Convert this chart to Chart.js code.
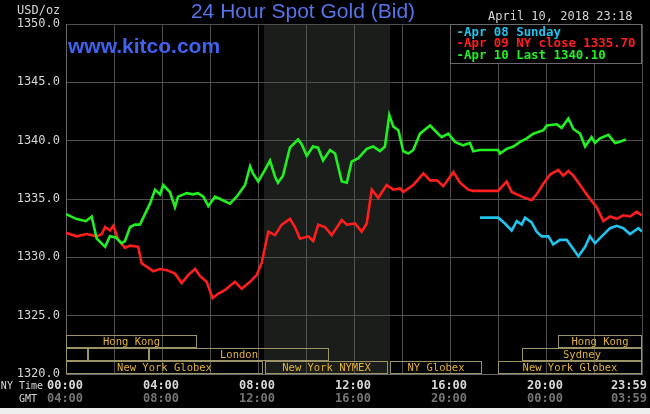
<!DOCTYPE html>
<html><head><meta charset="utf-8">
<script src="https://cdn.jsdelivr.net/npm/chart.js@4/dist/chart.umd.min.js"></script>
<style>html,body{margin:0;padding:0;background:#000;overflow:hidden}#wrap{width:650px;height:414px;position:relative}</style>
</head><body><div id="wrap"><canvas id="c" width="650" height="414"></canvas></div>
<script>
// ---- data (hours NY time, USD/oz) ----
const greenTimes = [0.00,0.42,0.83,1.07,1.28,1.63,1.83,2.08,2.32,2.46,2.67,2.88,3.08,3.29,3.50,3.71,3.92,4.05,4.33,4.54,4.67,5.03,5.29,5.50,5.72,5.93,6.21,6.42,6.83,7.11,7.46,7.67,7.79,8.01,8.29,8.50,8.71,8.83,9.04,9.33,9.67,9.82,10.03,10.29,10.50,10.71,11.00,11.21,11.49,11.70,11.90,12.18,12.53,12.80,13.08,13.29,13.47,13.64,13.85,14.05,14.26,14.47,14.75,15.17,15.45,15.65,15.93,16.21,16.55,16.83,16.97,17.25,18.00,18.08,18.36,18.64,18.92,19.20,19.47,19.89,20.03,20.45,20.65,20.93,21.14,21.42,21.63,21.90,22.04,22.25,22.60,22.88,23.08,23.33];
const greenValues = [1333.7,1333.3,1333.1,1333.5,1331.6,1330.9,1331.8,1331.7,1331.2,1331.4,1332.6,1332.8,1332.8,1333.7,1334.6,1335.8,1335.4,1336.2,1335.6,1334.3,1335.2,1335.5,1335.4,1335.5,1335.2,1334.4,1335.2,1335.0,1334.6,1335.2,1336.2,1337.8,1337.2,1336.5,1337.5,1338.3,1336.9,1336.4,1337.0,1339.4,1340.1,1339.7,1338.7,1339.5,1339.4,1338.3,1339.2,1338.9,1336.5,1336.4,1338.2,1338.5,1339.3,1339.5,1339.1,1339.5,1342.2,1341.2,1340.9,1339.1,1338.9,1339.2,1340.6,1341.3,1340.7,1340.3,1340.6,1339.9,1339.6,1339.8,1339.1,1339.2,1339.2,1338.9,1339.3,1339.5,1339.9,1340.2,1340.6,1340.9,1341.3,1341.4,1341.1,1341.9,1341.0,1340.6,1339.5,1340.3,1339.8,1340.2,1340.5,1339.8,1339.9,1340.1];

const redTimes = [0.00,0.45,0.86,1.28,1.49,1.63,1.83,1.97,2.18,2.46,2.67,3.01,3.15,3.36,3.64,3.92,4.20,4.54,4.82,5.10,5.38,5.58,5.86,6.11,6.35,6.63,7.04,7.32,7.67,7.95,8.15,8.43,8.71,8.99,9.33,9.54,9.75,10.10,10.30,10.51,10.79,11.07,11.49,11.70,12.04,12.32,12.53,12.74,13.01,13.36,13.64,13.92,14.05,14.47,14.89,15.17,15.45,15.72,16.14,16.42,16.76,16.96,18.00,18.36,18.57,18.99,19.40,19.61,19.89,20.17,20.51,20.72,20.93,21.14,21.42,21.76,22.11,22.39,22.67,22.95,23.22,23.50,23.78,23.99];
const redValues = [1332.1,1331.8,1332.0,1331.8,1332.0,1332.6,1332.3,1332.7,1331.5,1330.8,1331.0,1330.9,1329.5,1329.2,1328.8,1329.0,1328.9,1328.6,1327.8,1328.5,1329.0,1328.4,1327.9,1326.5,1326.9,1327.2,1327.9,1327.3,1327.9,1328.5,1329.5,1332.2,1331.9,1332.8,1333.3,1332.6,1331.6,1331.8,1331.4,1332.8,1332.6,1331.9,1333.2,1332.8,1332.9,1332.2,1332.9,1335.8,1335.1,1336.2,1335.8,1335.9,1335.6,1336.2,1337.2,1336.6,1336.6,1336.1,1337.3,1336.4,1335.8,1335.7,1335.7,1336.5,1335.6,1335.2,1334.9,1335.4,1336.3,1337.1,1337.5,1337.0,1337.4,1337.0,1336.2,1335.2,1334.3,1333.1,1333.5,1333.3,1333.6,1333.5,1333.9,1333.6];

const cyanTimes = [17.25,18.01,18.29,18.57,18.78,18.99,19.13,19.40,19.61,19.82,20.10,20.30,20.58,20.86,21.07,21.35,21.63,21.83,22.04,22.32,22.67,22.95,23.22,23.50,23.85,23.99];
const cyanValues = [1333.4,1333.4,1332.9,1332.3,1333.1,1332.8,1333.4,1333.0,1332.2,1331.8,1331.8,1331.1,1331.5,1331.5,1330.9,1330.1,1330.9,1331.8,1331.2,1331.8,1332.5,1332.7,1332.5,1332.0,1332.5,1332.2];

const legendLabels = ['-Apr 08 Sunday','-Apr 09 NY close 1335.70','-Apr 10 Last 1340.10'];
const yTickValues = [1320,1325,1330,1335,1340,1345,1350];
const nyTickHours = [0,4,8,12,16,20,24];
const nyTickLabels = ['00:00','04:00','08:00','12:00','16:00','20:00','23:59'];
const gmtTickLabels = ['04:00','08:00','12:00','16:00','20:00','00:00','03:59'];
const nymexHours = [8.25, 13.5];
const sessionNames = ['Hong Kong','','','London','New York Globex','New York NYMEX','NY Globex','New York Globex','Sydney','Hong Kong'];
const sessionStart = [0,0,0.93,3.46,0,8.3,13.5,18.0,19.0,20.5];
const sessionEnd   = [5.47,0.93,3.46,10.95,8.22,13.43,17.32,24,24,24];
const sessionRow   = [0,1,1,1,2,2,2,2,1,0];

const COL_CYAN='#22c4ee', COL_RED='#ff1e1e', COL_GREEN='#22f022';
const MONO='"DejaVu Sans Mono", monospace';

function pts(t,v){return t.map((x,i)=>({x:x,y:v[i]}));}

const deco = {
  id:'deco',
  beforeDraw(chart){
    const c=chart.ctx, a=chart.chartArea, xs=chart.scales.x;
    c.save();
    c.fillStyle='#000'; c.fillRect(0,0,650,414);
    c.fillStyle='#eeeeee'; c.fillRect(0,408,650,6);
    const x0=xs.getPixelForValue(nymexHours[0]), x1=xs.getPixelForValue(nymexHours[1]);
    c.fillStyle='#1b1d1b'; c.fillRect(x0,a.top,x1-x0,a.bottom-a.top);
    c.restore();
  },
  afterDatasetsDraw(chart){
    const c=chart.ctx, a=chart.chartArea, xs=chart.scales.x;
    c.save();
    // session boxes
    const tops=[a.bottom-39,a.bottom-26,a.bottom-13];
    c.lineWidth=1; c.strokeStyle='#9c9466';
    c.font='10.5px '+MONO; c.fillStyle='#e2b232'; c.textAlign='center'; c.textBaseline='middle';
    for(let i=0;i<sessionNames.length;i++){
      const x0=Math.round(xs.getPixelForValue(sessionStart[i]))+0.5;
      const x1=Math.round(xs.getPixelForValue(sessionEnd[i]))-0.5;
      const t=Math.round(tops[sessionRow[i]])+0.5;
      c.strokeRect(x0,t,x1-x0,12);
      if(sessionNames[i]) c.fillText(sessionNames[i],(x0+x1)/2,t+6.5);
    }
    // legend box
    c.fillStyle='#000'; c.fillRect(450.5,24.5,191,39);
    c.strokeStyle='#6a6a6a'; c.strokeRect(450.5,24.5,191,39);
    c.font='bold 12.4px '+MONO; c.textAlign='left'; c.textBaseline='middle';
    const lc=[COL_CYAN,COL_RED,COL_GREEN], ly=[32.5,44,55.7];
    for(let i=0;i<3;i++){c.fillStyle=lc[i]; c.fillText(legendLabels[i],456.5,ly[i]);}
    c.restore();
  },
  afterDraw(chart){
    const c=chart.ctx, xs=chart.scales.x;
    c.save();
    c.textBaseline='middle';
    // title
    c.font='21px "Liberation Sans", Arial, sans-serif'; c.fillStyle='#5674ea'; c.textAlign='center';
    c.fillText('24 Hour Spot Gold (Bid)',303,12);
    c.font='bold 21px "Liberation Sans", Arial, sans-serif'; c.fillStyle='#3f62ee'; c.textAlign='left';
    c.fillText('www.kitco.com',68,47);
    c.font='12px '+MONO; c.fillStyle='#d6d6d6'; c.textAlign='left';
    c.fillText('April 10, 2018 23:18',488,17);
    c.fillText('USD/oz',17,10.5);
    // x labels
    c.font='10px '+MONO; c.fillStyle='#d6d6d6'; c.textAlign='right';
    c.fillText('NY Time',43,386);
    c.fillStyle='#d6d6d6'; c.fillText('GMT',37,399);
    c.font='bold 12px '+MONO;
    for(let i=0;i<nyTickHours.length;i++){
      let px=xs.getPixelForValue(nyTickHours[i]);
      const w=c.measureText(nyTickLabels[i]).width;
      let left=px-w/2-1; if(left+w>647) left=647-w;
      c.textAlign='left';
      c.fillStyle='#d8d8d8'; c.fillText(nyTickLabels[i],left,386);
      c.fillStyle='#767676'; c.fillText(gmtTickLabels[i],left,399);
    }
    c.restore();
  }
};

new Chart(document.getElementById('c'),{
  type:'line',
  data:{datasets:[
    {label:legendLabels[0],data:pts(cyanTimes,cyanValues),borderColor:COL_CYAN,borderWidth:2.6,pointRadius:0,order:2},
    {label:legendLabels[1],data:pts(redTimes,redValues),borderColor:COL_RED,borderWidth:2.6,pointRadius:0,order:1},
    {label:legendLabels[2],data:pts(greenTimes,greenValues),borderColor:COL_GREEN,borderWidth:2.6,pointRadius:0,order:0}
  ]},
  options:{
    responsive:false, devicePixelRatio:1, animation:false,
    layout:{padding:{top:24,right:8,left:0,bottom:0}},
    plugins:{legend:{display:false},tooltip:{enabled:false}},
    elements:{line:{tension:0}},
    scales:{
      x:{type:'linear',min:0,max:24,ticks:{display:false,stepSize:2},
         grid:{color:'#4e4e4e',drawTicks:false},border:{color:'#6a6a6a'},
         afterFit(s){s.height=40;}},
      y:{min:1320,max:1350,
         afterBuildTicks(s){s.ticks=yTickValues.map(v=>({value:v}));},
         ticks:{callback:v=>Number(v).toFixed(1),color:'#d6d6d6',padding:6,font:{family:'DejaVu Sans Mono',size:12}},
         grid:{color:'#4e4e4e',drawTicks:false},border:{color:'#6a6a6a'},
         afterFit(s){s.width=66;}}
    }
  },
  plugins:[deco]
});
</script></body></html>
